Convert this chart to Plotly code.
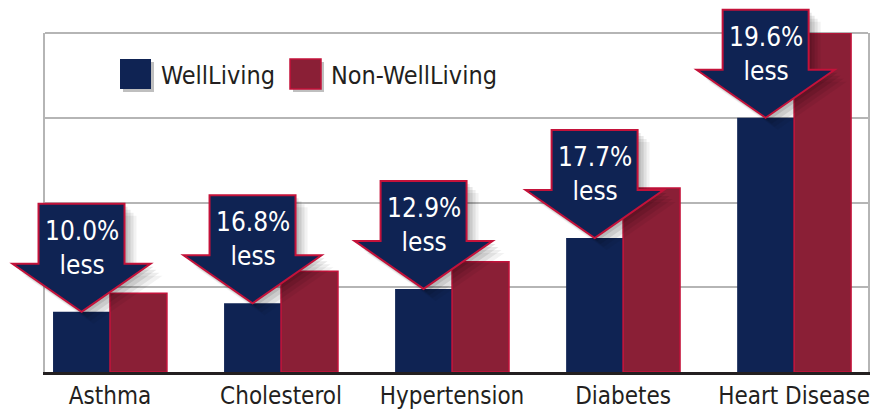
import plotly.graph_objects as go

categories = ["Asthma", "Cholesterol", "Hypertension", "Diabetes", "Heart Disease"]
wellliving = [0.71, 0.81, 0.98, 1.58, 3.0]
non_wellliving = [0.93, 1.19, 1.30, 2.17, 4.0]
reductions = ["10.0%", "16.8%", "12.9%", "17.7%", "19.6%"]
series_names = ["WellLiving", "Non-WellLiving"]

NAVY = "#0f2353"
MAROON = "#8a1f36"
CRIMSON = "#c4123a"
GRID = "#b5b5b5"
DARK = "#231f20"
FONT = "Liberation Sans Narrow, Arial Narrow, DejaVu Sans Condensed, sans-serif"

W, H = 883, 410
ML, MR, MT, MB = 45, 15, 33, 38
PW, PH = W - ML - MR, H - MT - MB
XR = [-0.38, 4.432]
YR = [0, 4]
BARGAP = 0.334

x = list(range(len(categories)))

fig = go.Figure()
fig.add_bar(x=x, y=wellliving, name=series_names[0],
            marker=dict(color=NAVY, line=dict(width=0)))
fig.add_bar(x=x, y=non_wellliving, name=series_names[1],
            marker=dict(color=MAROON, line=dict(color=CRIMSON, width=1.5)))


def data2paper(xv, yv):
    return (xv - XR[0]) / (XR[1] - XR[0]), (yv - YR[0]) / (YR[1] - YR[0])


def arrow_path(dx=0, dy=0):
    pts = [(0, 0), (69, 48), (43, 48), (43, 108), (-43, 108), (-43, 48), (-69, 48)]
    return "M " + " L ".join(f"{px + dx} {py + dy}" for px, py in pts) + " Z"


shapes = []
annotations = []

# top frame line
shapes.append(dict(type="line", xref="paper", yref="paper", x0=0, x1=1, y0=1, y1=1,
                   line=dict(color=GRID, width=2), layer="below"))

half = (1 - BARGAP) / 4  # center offset of first bar in a group
for i, (v, r) in enumerate(zip(wellliving, reductions)):
    xa, ya = data2paper(i - half, v)
    # soft shadow layers
    for dx, dy, op in [(12, -12, 0.05), (9, -9, 0.07), (6, -6, 0.09), (3, -3, 0.10)]:
        shapes.append(dict(type="path", xref="paper", yref="paper", xsizemode="pixel", ysizemode="pixel",
                           xanchor=xa, yanchor=ya, path=arrow_path(dx, dy),
                           fillcolor="rgba(0,0,0,%.2f)" % op, line=dict(width=0), layer="above"))
    shapes.append(dict(type="path", xref="paper", yref="paper", xsizemode="pixel", ysizemode="pixel",
                       xanchor=xa, yanchor=ya, path=arrow_path(),
                       fillcolor=NAVY, line=dict(color=CRIMSON, width=2), layer="above"))
    annotations.append(dict(x=xa, y=ya, xref="paper", yref="paper", text=f"{r}<br>less", showarrow=False,
                            yshift=64, yanchor="middle", xanchor="center",
                            font=dict(family=FONT, size=26, color="white")))

# custom legend
def px2paper(px, py):
    return (px - ML) / PW, (H - MB - py) / PH

legend_items = [(120, 159, NAVY, None), (290, 329, MAROON, CRIMSON)]
for (sx, tx, col, lc), name in zip(legend_items, series_names):
    x0, y0 = px2paper(sx + 3, 92)
    x1, y1 = px2paper(sx + 34, 62)
    shapes.append(dict(type="rect", xref="paper", yref="paper", x0=x0, x1=x1, y0=y0, y1=y1,
                       fillcolor="rgba(0,0,0,0.25)", line=dict(width=0), layer="above"))
    x0, y0 = px2paper(sx, 89)
    x1, y1 = px2paper(sx + 31, 59)
    shapes.append(dict(type="rect", xref="paper", yref="paper", x0=x0, x1=x1, y0=y0, y1=y1,
                       fillcolor=col, line=dict(color=lc or col, width=1.5 if lc else 0), layer="above"))
    ax, ay = px2paper(tx, 75)
    annotations.append(dict(x=ax, y=ay, xref="paper", yref="paper", text=name, showarrow=False,
                            xanchor="left", yanchor="middle",
                            font=dict(family=FONT, size=25, color=DARK)))

fig.update_layout(
    width=W, height=H,
    margin=dict(l=ML, r=MR, t=MT, b=MB, autoexpand=False),
    paper_bgcolor="white", plot_bgcolor="white",
    barmode="group", bargap=BARGAP, bargroupgap=0,
    showlegend=False,
    shapes=shapes, annotations=annotations,
    font=dict(family=FONT, color=DARK),
    xaxis=dict(range=XR, tickvals=x, ticktext=categories, ticks="", automargin=False,
               showline=True, linecolor=DARK, linewidth=3, showgrid=False, zeroline=False,
               tickfont=dict(family=FONT, size=24, color=DARK), fixedrange=True),
    yaxis=dict(range=YR, tickvals=[1, 2, 3, 4], showticklabels=False, ticks="", automargin=False,
               showgrid=True, gridcolor=GRID, gridwidth=2, zeroline=False,
               showline=True, linecolor=GRID, linewidth=2, mirror=True, fixedrange=True),
)

fig.write_html("out.html", config={"displayModeBar": False},
               post_script="document.body.style.margin='0';document.body.style.overflow='hidden';")
